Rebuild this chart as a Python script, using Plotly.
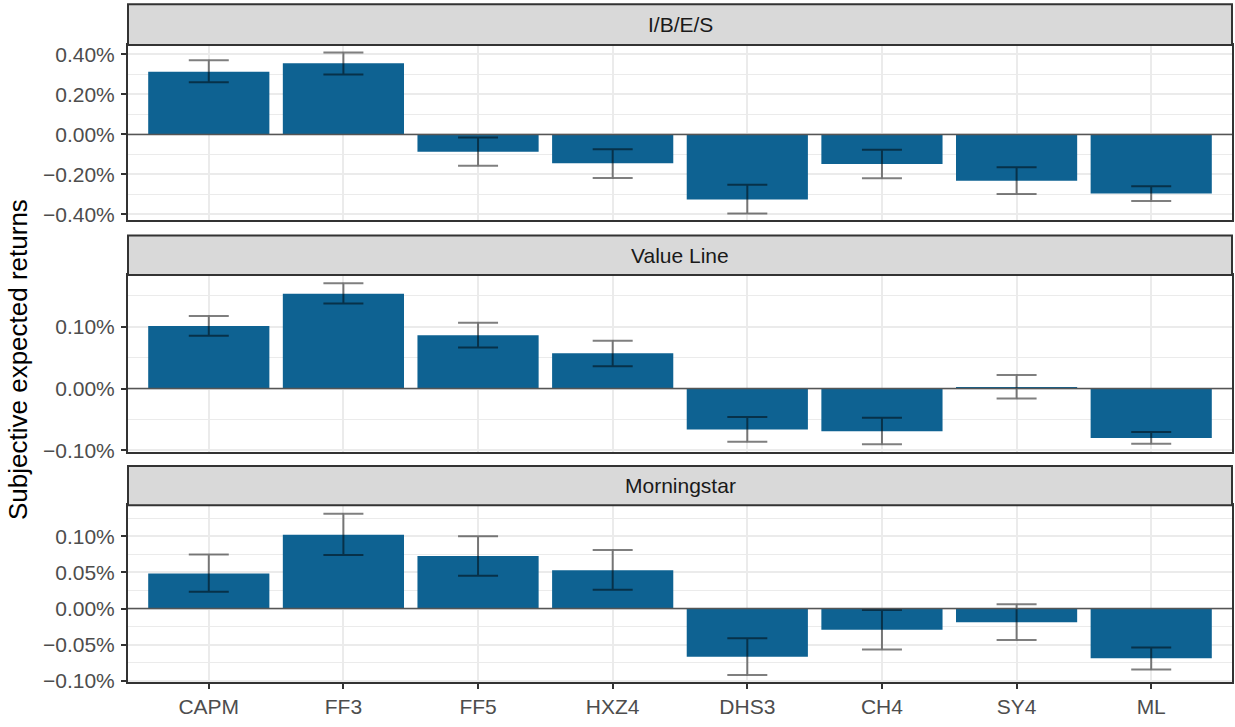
import plotly.graph_objects as go

categories = ["CAPM", "FF3", "FF5", "HXZ4", "DHS3", "CH4", "SY4", "ML"]
panels = ["I/B/E/S", "Value Line", "Morningstar"]

# values in percent
ibes_mean = [0.313, 0.356, -0.087, -0.144, -0.325, -0.148, -0.231, -0.295]
ibes_lo = [0.261, 0.300, -0.157, -0.218, -0.395, -0.219, -0.298, -0.333]
ibes_hi = [0.371, 0.410, -0.015, -0.074, -0.252, -0.077, -0.164, -0.259]

vl_mean = [0.101, 0.153, 0.086, 0.057, -0.066, -0.069, 0.002, -0.080]
vl_lo = [0.085, 0.137, 0.066, 0.036, -0.086, -0.090, -0.016, -0.089]
vl_hi = [0.117, 0.170, 0.106, 0.077, -0.046, -0.047, 0.022, -0.070]

ms_mean = [0.0486, 0.102, 0.0726, 0.053, -0.0667, -0.0294, -0.019, -0.0689]
ms_lo = [0.0231, 0.074, 0.0454, 0.026, -0.092, -0.0566, -0.0435, -0.0844]
ms_hi = [0.0748, 0.131, 0.100, 0.081, -0.041, -0.002, 0.006, -0.054]

y_ranges = [[-0.428, 0.447], [-0.1027, 0.183], [-0.102, 0.1429]]
y_ticks = [[-0.4, -0.2, 0.0, 0.2, 0.4], [-0.1, 0.0, 0.1], [-0.1, -0.05, 0.0, 0.05, 0.1]]
y_minor = [[-0.3, -0.1, 0.1, 0.3], [-0.05, 0.05, 0.15], [-0.075, -0.025, 0.025, 0.075, 0.125]]

series = [(ibes_mean, ibes_lo, ibes_hi), (vl_mean, vl_lo, vl_hi), (ms_mean, ms_lo, ms_hi)]

W, H = 1235, 727
x_dom = [128 / W, 1232 / W]
plot_px = [(43.7, 221.7), (277.7, 457.7), (511.7, 691.7)]
strip_px = [(2.3, 43.7), (237.3, 277.7), (471.7, 511.7)]

BAR = "#0E6292"
GRID = "#EBEBEB"
DARK = "#333333"
TICKC = "#4D4D4D"
FONT = "Liberation Sans, Arial, Helvetica, sans-serif"

fig = go.Figure()
layout = dict(
    width=W, height=H, margin=dict(l=0, r=0, t=0, b=0),
    paper_bgcolor="white", plot_bgcolor="white", showlegend=False,
    font=dict(family=FONT, size=21, color=TICKC),
)
shapes = []
annotations = []

for i, (mean, lo, hi) in enumerate(series):
    k = "" if i == 0 else str(i + 1)
    m = [v / 100 for v in mean]
    up = [(h - v) / 100 for h, v in zip(hi, mean)]
    dn = [(v - l) / 100 for l, v in zip(lo, mean)]
    fig.add_trace(go.Bar(
        x=categories, y=m, xaxis="x" + k, yaxis="y" + k,
        marker=dict(color=BAR, line=dict(width=0)), width=0.9,
        error_y=dict(type="data", array=up, arrayminus=dn, symmetric=False,
                     color="rgba(0,0,0,0.5)", thickness=2, width=20),
        hoverinfo="skip",
    ))
    top, bot = plot_px[i]
    ydom = [1 - bot / H, 1 - top / H]
    last = i == 2
    layout["xaxis" + k] = dict(
        domain=x_dom, anchor="y" + k, type="category", range=[-0.6, 7.6],
        categoryorder="array", categoryarray=categories,
        showgrid=True, gridcolor=GRID, gridwidth=2,
        showline=True, linecolor=DARK, linewidth=2, mirror=True,
        ticks="outside" if last else "", ticklen=5, tickwidth=2, tickcolor=DARK,
        showticklabels=last, tickfont=dict(size=21, color=TICKC),
        zeroline=False, fixedrange=True,
    )
    layout["yaxis" + k] = dict(
        domain=ydom, anchor="x" + k, range=[r / 100 for r in y_ranges[i]],
        tickvals=[t / 100 for t in y_ticks[i]], tickformat=".2%",
        showgrid=True, gridcolor=GRID, gridwidth=2,
        minor=dict(tickvals=[t / 100 for t in y_minor[i]], showgrid=True,
                   gridcolor=GRID, gridwidth=1, ticks=""),
        showline=True, linecolor=DARK, linewidth=2, mirror=True,
        ticks="outside", ticklen=5, tickwidth=2, tickcolor=DARK,
        tickfont=dict(size=21, color=TICKC), ticklabelstandoff=2,
        zeroline=False, fixedrange=True,
    )
    shapes.append(dict(type="line", xref="x" + k + " domain", yref="y" + k,
                       x0=0, x1=1, y0=0, y1=0, layer="above",
                       line=dict(color="#555555", width=1.5)))
    st, sb = strip_px[i]
    shapes.append(dict(type="rect", xref="paper", yref="paper",
                       x0=x_dom[0], x1=x_dom[1], y0=1 - sb / H, y1=1 - st / H,
                       fillcolor="#D9D9D9", line=dict(color=DARK, width=2), layer="above"))
    annotations.append(dict(text=panels[i], xref="paper", yref="paper",
                            x=(x_dom[0] + x_dom[1]) / 2, y=1 - (st + sb) / 2 / H,
                            xanchor="center", yanchor="middle", showarrow=False,
                            font=dict(size=21, color="#1A1A1A")))

annotations.append(dict(text="Subjective expected returns", xref="paper", yref="paper",
                        x=18 / W, y=1 - 364 / H, textangle=-90, showarrow=False,
                        xanchor="center", yanchor="middle",
                        font=dict(size=26, color="black")))

layout["shapes"] = shapes
layout["annotations"] = annotations
fig.update_layout(**layout)

post = (
    "document.documentElement.style.overflow='hidden';"
    "document.body.style.margin='0';"
    "document.body.style.overflow='hidden';"
)
fig.write_html("out.html", config={"displayModeBar": False}, post_script=post)
